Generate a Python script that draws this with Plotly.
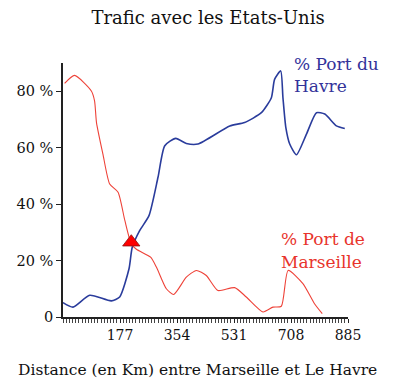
import plotly.graph_objects as go

# Share of US traffic (%) by distance along the Marseille - Le Havre route
havre_km = [0, 31, 83, 150, 176, 205, 215, 238, 267, 295, 316, 350, 383, 419,
            518, 564, 616, 647, 657, 676, 683, 692, 704, 725, 756, 787, 813, 849, 875]
havre_pct = [5.1, 3.5, 7.7, 5.7, 7.1, 17.1, 24.7, 30.6, 35.9, 49.5, 60.7, 63.3, 61.5, 61.3,
             67.7, 68.9, 72.4, 77.7, 84.2, 87.2, 77.7, 67.1, 61.3, 57.5, 64.8, 72.4, 71.9, 67.7, 66.8]

marseille_km = [5, 36, 88, 98, 104, 124, 145, 171, 192, 212, 228, 272, 290, 321, 344,
                383, 414, 445, 481, 533, 569, 621, 652, 678, 699, 745, 781, 805]
marseille_pct = [82.8, 85.6, 80.1, 76.6, 68.9, 57.7, 47.1, 44.2, 34.2, 25.9, 24.0, 21.2, 17.7, 10.0, 8.0,
                 14.1, 16.5, 14.7, 9.4, 10.4, 7.1, 1.8, 3.5, 3.8, 16.5, 11.8, 4.7, 1.2]

# Point where the two shares cross
cross_km = [212]
cross_pct = [26.5]

x_ticks = [177, 354, 531, 708, 885]
y_ticks = [0, 20, 40, 60, 80]
y_labels = ["0", "20 %", "40 %", "60 %", "80 %"]

BLUE = "#2a3c9c"
RED = "#ee4238"
FONT = "DejaVu Serif, Liberation Serif, serif"

fig = go.Figure()
fig.add_trace(go.Scatter(x=havre_km, y=havre_pct, mode="lines",
                         line=dict(color=BLUE, width=1.6, shape="spline", smoothing=0.6),
                         hoverinfo="skip"))
fig.add_trace(go.Scatter(x=marseille_km, y=marseille_pct, mode="lines",
                         line=dict(color=RED, width=1.1, shape="spline", smoothing=0.6),
                         hoverinfo="skip"))
fig.add_trace(go.Scatter(x=cross_km, y=cross_pct, mode="markers",
                         marker=dict(symbol="triangle-up", size=15, color="#ff0000",
                                     line=dict(color="#8a1010", width=0.8)),
                         hoverinfo="skip"))

# Series labels, one annotation per text line
labels = [
    ("% Port du", 0.804, 0.995, "#33339a"),
    ("Havre", 0.804, 0.908, "#33339a"),
    ("% Port de", 0.757, 0.306, "#e8342c"),
    ("Marseille", 0.757, 0.215, "#e8342c"),
]
for text, px, py, col in labels:
    fig.add_annotation(x=px, y=py, xref="paper", yref="paper", text=text,
                       showarrow=False, xanchor="left", yanchor="middle",
                       font=dict(family=FONT, size=17, color=col))

# x-axis caption placed below the tick labels
fig.add_annotation(x=0.471, y=-0.21, xref="paper", yref="paper",
                   text="Distance (en Km) entre Marseille et Le Havre",
                   showarrow=False, xanchor="center", yanchor="middle",
                   font=dict(family=FONT, size=15.5, color="#111111"))

fig.update_layout(
    width=408, height=381,
    margin=dict(l=63, r=60, t=63, b=64),
    paper_bgcolor="white", plot_bgcolor="white",
    showlegend=False,
    font=dict(family=FONT, size=14, color="#111111"),
    title=dict(text="Trafic avec les Etats-Unis", x=0.51, xanchor="center",
               y=1 - 18 / 381, yanchor="middle",
               font=dict(family=FONT, size=18, color="#111111")),
)
fig.update_xaxes(
    range=[0, 885], tickvals=x_ticks, ticks="outside", ticklen=4, tickwidth=1,
    tickcolor="#222", showline=True, linecolor="#222", linewidth=1.5,
    showgrid=False, zeroline=False, automargin=False,
    minor=dict(dtick=885 / 90, tick0=0, ticks="outside", ticklen=4, tickcolor="#444",
               tickwidth=0.8, showgrid=False),
    tickfont=dict(family=FONT, size=14),
)
fig.update_yaxes(
    range=[0, 90], tickvals=y_ticks, ticktext=y_labels, ticks="outside", ticklen=5,
    tickwidth=1.2, tickcolor="#222", showline=True, linecolor="#222", linewidth=1.5,
    showgrid=False, zeroline=False, automargin=False, tickfont=dict(family=FONT, size=14.5),
)

fig.write_html("out.html")
